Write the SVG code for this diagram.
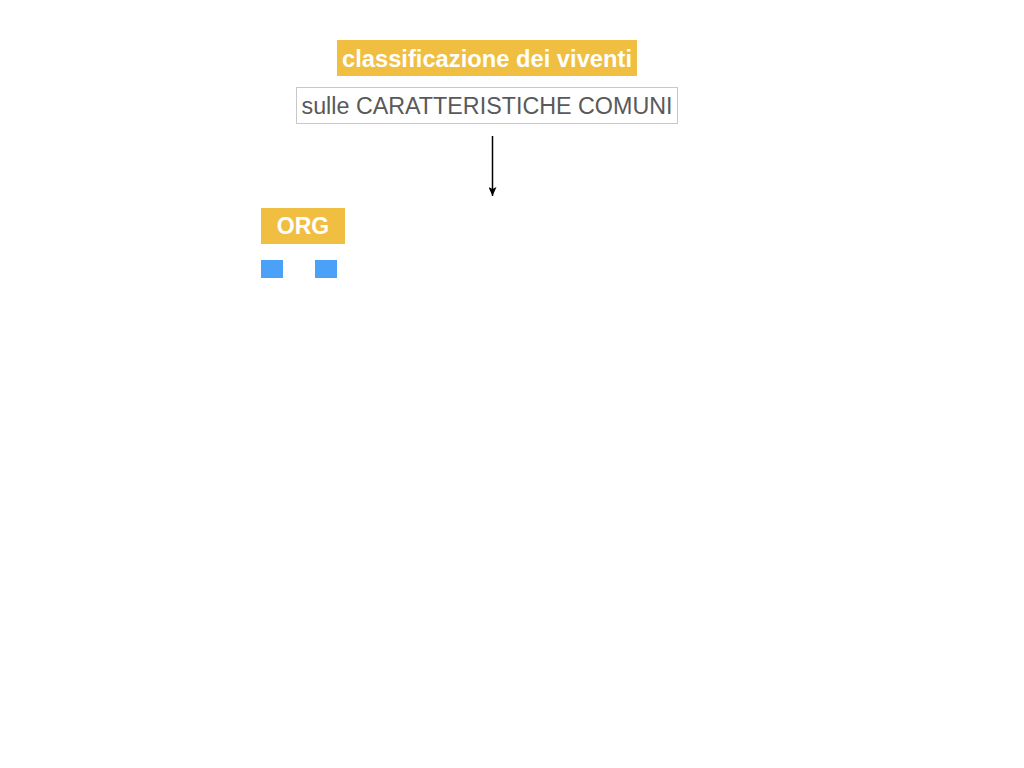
<svg xmlns="http://www.w3.org/2000/svg" width="1024" height="768" viewBox="0 0 1024 768">
<style>
.yel{fill:#F0BE41}
.wt{fill:#fff;font-family:"Liberation Sans",Arial,sans-serif;font-weight:bold;text-anchor:middle}
.blue{fill:#4AA1F7}
</style>
<defs>
<marker id="ah" markerWidth="9" markerHeight="8" refX="9" refY="4" orient="auto" markerUnits="userSpaceOnUse" viewBox="0 0 9 8">
<path d="M0,0 L9,4 L0,8 L2,4 Z" fill="#000"/>
</marker>
</defs>
<rect width="1024" height="768" fill="#fff"/>
<g id="title">
<rect class="yel" x="337" y="40" width="300" height="36"/>
<text class="wt" x="487" y="66.5" font-size="23.5" textLength="290" lengthAdjust="spacingAndGlyphs">classificazione dei viventi</text>
</g>
<g id="sub">
<rect x="296.5" y="87.5" width="381" height="36" fill="#fff" stroke="#c8c8c8" stroke-width="1"/>
<text x="487" y="114" font-size="23" fill="#595959" font-family="Liberation Sans,Arial,sans-serif" text-anchor="middle" textLength="371" lengthAdjust="spacingAndGlyphs">sulle CARATTERISTICHE COMUNI</text>
</g>
<g id="org">
<rect class="yel" x="261" y="208" width="84" height="36"/>
<text class="wt" x="303" y="234" font-size="23">ORG</text>
</g>
<g id="sq1"><rect class="blue" x="261" y="260" width="22" height="18"/></g>
<g id="sq2"><rect class="blue" x="315" y="260" width="22" height="18"/></g>
<g id="connectors">
<line x1="492.5" y1="136" x2="492.5" y2="196" stroke="#000" stroke-width="1.5" marker-end="url(#ah)"/>
</g>
</svg>
